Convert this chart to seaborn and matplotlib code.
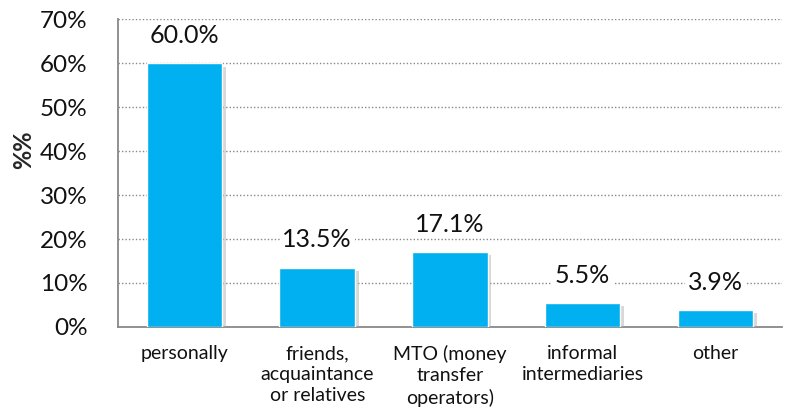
import matplotlib
matplotlib.use("Agg")
import matplotlib.pyplot as plt
import matplotlib.patheffects as pe
from matplotlib.ticker import PercentFormatter
import pandas as pd
import seaborn as sns

categories = ["personally", "friends,\nacquaintance\nor relatives", "MTO (money\ntransfer\noperators)",
              "informal\nintermediaries", "other"]
values = [60.0, 13.5, 17.1, 5.5, 3.9]

df = pd.DataFrame({"channel": categories, "share": values})

sns.set_style("white")
plt.rcParams["font.family"] = ["Lato", "DejaVu Sans"]

fig = plt.figure(figsize=(7.88, 4.16), dpi=100)
ax = fig.add_axes([0.150, 0.214, 0.842, 0.740])

sns.barplot(data=df, x="channel", y="share", color="#00B0F0", saturation=1, width=0.57, ax=ax, zorder=3)

for bar in ax.patches:
    bar.set_path_effects([pe.SimplePatchShadow(offset=(2.5, -2.5), shadow_rgbFace="#aaaaaa", alpha=0.45),
                          pe.Normal()])

for i, v in enumerate(values):
    ax.text(i, v + 6.3, f"{v:.1f}%", ha="center", va="center", fontsize=18, color="#111111",
            bbox=dict(facecolor="white", edgecolor="none", pad=2), zorder=4)

ax.set_ylim(0, 70)
ax.set_xlim(-0.5, 4.5)
ax.set_yticks(range(0, 71, 10))
ax.yaxis.set_major_formatter(PercentFormatter(decimals=0))
ax.tick_params(axis="y", labelsize=17.5, length=0, pad=22, labelcolor="#111111")
ax.tick_params(axis="x", labelsize=14, length=0, pad=13, labelcolor="#111111")
for lbl in ax.get_xticklabels():
    lbl.set_linespacing(1.3)
ax.grid(axis="y", linestyle=(0, (1, 1.5)), color="#888888", linewidth=1, zorder=0)
ax.set_axisbelow(True)
ax.set_xlabel("")
ax.set_ylabel("")
for s in ["top", "right"]:
    ax.spines[s].set_visible(False)
for s in ["left", "bottom"]:
    ax.spines[s].set_color("#888888")
    ax.spines[s].set_linewidth(1.3)

fig.text(0.030, 0.64, "%%", rotation=90, ha="center", va="center", fontsize=17, fontweight="bold")

fig.savefig("out.png", dpi=100)
